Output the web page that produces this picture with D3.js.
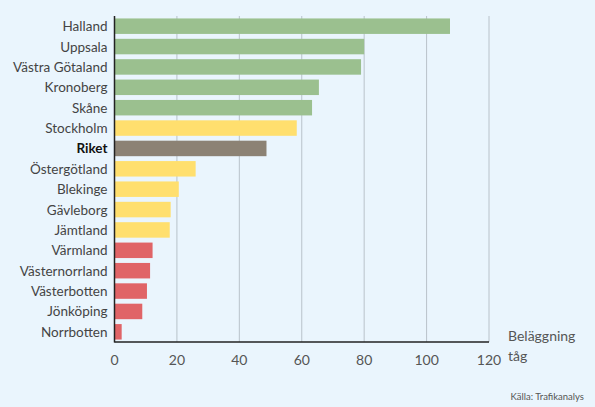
<!DOCTYPE html>
<html><head><meta charset="utf-8">
<script src="https://cdn.jsdelivr.net/npm/d3@7"></script>
<style>
body{margin:0;background:#eaf5fd;}
text{font-family:Lato,"Open Sans",sans-serif;fill:#333;}
</style></head><body>
<svg id="chart" width="595" height="407"></svg>
<script>
const regions = ['Halland','Uppsala','Västra Götaland','Kronoberg','Skåne','Stockholm','Riket','Östergötland','Blekinge','Gävleborg','Jämtland','Värmland','Västernorrland','Västerbotten','Jönköping','Norrbotten'];
const values = [107.5, 80, 79, 65.5, 63.3, 58.4, 48.7, 26, 20.6, 18, 17.7, 12.2, 11.4, 10.4, 8.9, 2.3];
const groups = ['g','g','g','g','g','y','r','y','y','y','y','d','d','d','d','d'];
const ticks = [0, 20, 40, 60, 80, 100, 120];
const colors = {g:'#9bc08f', y:'#ffdf6e', r:'#8c8274', d:'#e06467'};

const svg = d3.select('#chart');
const x = d3.scaleLinear().domain([0, 120]).range([114.5, 489]);
const y = d3.scaleBand().domain(regions).range([16, 342]).paddingInner(0.24).paddingOuter(0.12);

svg.append('g').selectAll('line').data(ticks.slice(1)).join('line')
    .attr('x1', d => x(d)).attr('x2', d => x(d))
    .attr('y1', 16).attr('y2', 342)
    .attr('stroke', '#b9c2ca').attr('stroke-width', 1);

svg.append('g').selectAll('rect').data(regions).join('rect')
    .attr('x', x(0)).attr('y', d => y(d))
    .attr('width', (d, i) => x(values[i]) - x(0))
    .attr('height', y.bandwidth())
    .attr('fill', (d, i) => colors[groups[i]]);

svg.append('g').selectAll('text').data(regions).join('text')
    .attr('x', x(0) - 7).attr('y', d => y(d) + y.bandwidth() / 2)
    .attr('text-anchor', 'end').attr('dominant-baseline', 'central')
    .attr('font-size', 13.5)
    .attr('font-weight', d => d === 'Riket' ? 'bold' : 'normal')
    .style('fill', d => d === 'Riket' ? '#111' : '#444')
    .text(d => d);

svg.append('line').attr('x1', x(0)).attr('x2', x(0)).attr('y1', 16).attr('y2', 342.5)
    .attr('stroke', '#222').attr('stroke-width', 1.5);
svg.append('line').attr('x1', x(0)).attr('x2', x(120)).attr('y1', 342).attr('y2', 342)
    .attr('stroke', '#222').attr('stroke-width', 1.5);

svg.append('g').selectAll('text').data(ticks).join('text')
    .attr('x', d => x(d)).attr('y', 359)
    .attr('text-anchor', 'middle').attr('dominant-baseline', 'central')
    .attr('font-size', 14).style('fill', '#555')
    .text(d => d);

svg.append('text').attr('x', 508).attr('y', 341).attr('font-size', 14).style('fill', '#555').text('Beläggning');
svg.append('text').attr('x', 508).attr('y', 361).attr('font-size', 14).style('fill', '#555').text('tåg');
svg.append('text').attr('x', 584).attr('y', 400).attr('text-anchor', 'end')
    .attr('font-size', 9.5).style('fill', '#555').text('Källa: Trafikanalys');
</script>
</body></html>
